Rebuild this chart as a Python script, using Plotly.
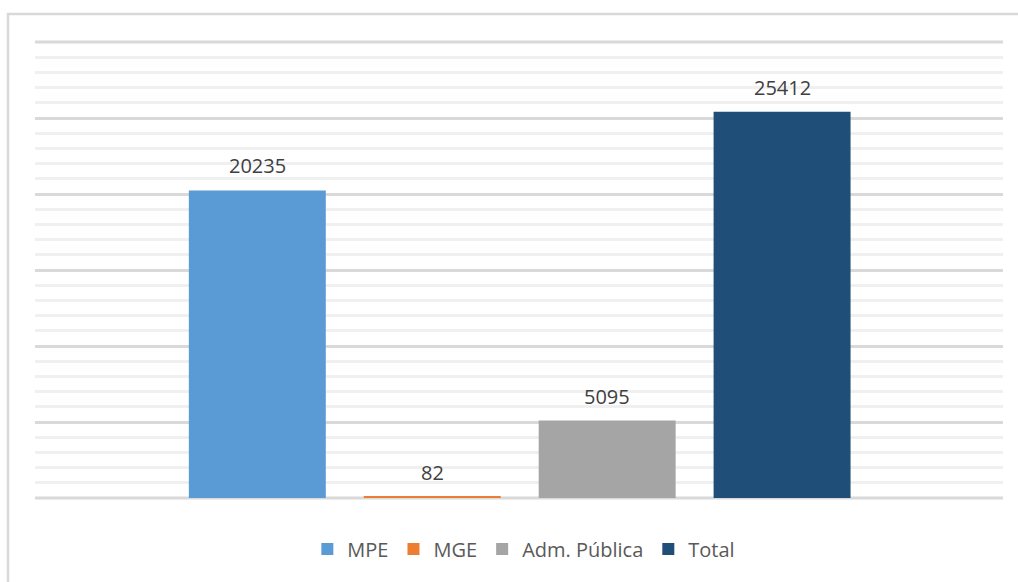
import plotly.graph_objects as go

# Series shown as separate bars
series_names = ["MPE", "MGE", "Adm. Pública", "Total"]
series_values = [20235, 82, 5095, 25412]
series_colors = ["#5b9bd5", "#ed7d31", "#a5a5a5", "#1f4e79"]

FONT = "Open Sans, Calibri, sans-serif"
Y_MAX = 30000

fig = go.Figure()
for i, (name, val, col) in enumerate(zip(series_names, series_values, series_colors)):
    fig.add_trace(go.Bar(
        x=[i], y=[val], name=name, width=0.783,
        marker=dict(color=col, line=dict(width=0)),
        hoverinfo="name+y",
    ))
    fig.add_annotation(
        x=i, y=val, text=str(val), showarrow=False,
        yanchor="bottom", yshift=9,
        font=dict(family=FONT, size=20, color="#404040"),
    )

# Major gridlines on the bottom and top edges of the plot area
for yp in (0, 1):
    fig.add_shape(
        type="line", xref="paper", yref="paper", x0=0, x1=1, y0=yp, y1=yp,
        line=dict(color="#d9d9d9", width=3), layer="below",
    )

# Outer chart frame
fig.add_shape(
    type="rect", xref="paper", yref="paper",
    x0=-0.0279, x1=1.06, y0=-0.4, y1=1.0614,
    line=dict(color="#d9d9d9", width=2.5), layer="below",
)

fig.update_layout(
    width=1018, height=582,
    margin=dict(l=35, r=15, t=42, b=84),
    paper_bgcolor="white", plot_bgcolor="white",
    barmode="overlay",
    showlegend=True,
    legend=dict(
        orientation="h", x=0.505, xanchor="center", y=-0.112, yanchor="middle",
        font=dict(family=FONT, size=20, color="#595959"),
        itemclick=False, itemdoubleclick=False,
    ),
    xaxis=dict(
        range=[-1.271, 4.263], showticklabels=False, showgrid=False,
        zeroline=False, showline=False, ticks="",
    ),
    yaxis=dict(
        range=[0, Y_MAX], dtick=5000, showticklabels=False,
        showgrid=True, gridcolor="#d9d9d9", gridwidth=3,
        zeroline=False, showline=False, ticks="",
        minor=dict(dtick=1000, showgrid=True, gridcolor="#f0f0f0", gridwidth=3),
    ),
    font=dict(family=FONT),
)

fig.write_html("out.html")
